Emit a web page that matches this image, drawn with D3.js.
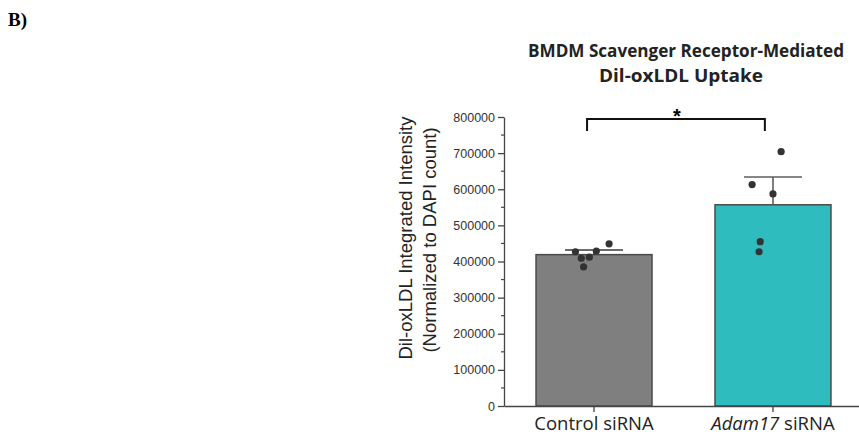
<!DOCTYPE html>
<html>
<head>
<meta charset="utf-8">
<script src="https://cdn.jsdelivr.net/npm/d3@7"></script>
<style>
  body { margin: 0; background: #fff; }
  svg { display: block; }
</style>
</head>
<body>
<div id="chart"></div>
<script>
const width = 859, height = 437;

// data
const groups = ["Control siRNA", "Adam17 siRNA"];
const means = [419000, 557000];
const sems = [13000, 77000];
const controlPoints = [427000, 409000, 412000, 429000, 385000, 449000];
const adamPoints = [704000, 613000, 587000, 455000, 427000];
// horizontal jitter of each dot, as a fraction of the bar band
const controlJitter = [-0.16, -0.11, -0.04, 0.02, -0.09, 0.13];
const adamJitter = [0.07, -0.18, 0.00, -0.11, -0.12];
const yTicks = [0, 100000, 200000, 300000, 400000, 500000, 600000, 700000, 800000];
const barColors = ["#7f7f7f", "#2fbcbf"];

const margin = {left: 504, top: 117, bottom: 31};

const svg = d3.select("#chart")
    .append("svg")
    .attr("width", width)
    .attr("height", height);

const x = d3.scaleBand()
    .domain(groups)
    .range([margin.left, 863])
    .paddingInner(0.352)
    .paddingOuter(0.179);

const y = d3.scaleLinear()
    .domain([0, 800000])
    .range([height - margin.bottom, margin.top]);

// panel letter
svg.append("text")
    .attr("x", 8).attr("y", 26)
    .attr("font-family", "Liberation Serif")
    .attr("font-weight", "bold")
    .attr("font-size", 19)
    .text("B)");

// title
const title = svg.append("text")
    .attr("text-anchor", "middle")
    .attr("font-family", "Open Sans")
    .attr("font-weight", "bold")
    .attr("font-size", 17)
    .attr("fill", "#222");
title.append("tspan").attr("x", 686).attr("y", 57)
    .attr("textLength", 316).attr("lengthAdjust", "spacingAndGlyphs")
    .text("BMDM Scavenger Receptor-Mediated");
title.append("tspan").attr("x", 681).attr("y", 82)
    .attr("textLength", 164).attr("lengthAdjust", "spacingAndGlyphs")
    .text("Dil-oxLDL Uptake");

// bars
const bars = groups.map((g, i) => ({group: g, mean: means[i], sem: sems[i], color: barColors[i]}));

svg.append("g").selectAll("rect")
    .data(bars)
    .join("rect")
    .attr("x", d => x(d.group))
    .attr("y", d => y(d.mean))
    .attr("width", x.bandwidth())
    .attr("height", d => y(0) - y(d.mean))
    .attr("fill", d => d.color)
    .attr("stroke", "#4a4a4a")
    .attr("stroke-width", 1.5);

// error bars
const err = svg.append("g").selectAll("g")
    .data(bars)
    .join("g")
    .attr("stroke", (d, i) => i === 0 ? "#3a3a3a" : "#5e5e5e")
    .attr("stroke-width", 1.6);
err.append("line")
    .attr("x1", d => x(d.group) + x.bandwidth() / 2)
    .attr("x2", d => x(d.group) + x.bandwidth() / 2)
    .attr("y1", d => y(d.mean))
    .attr("y2", d => y(d.mean + d.sem));
err.append("line")
    .attr("x1", d => x(d.group) + x.bandwidth() / 4)
    .attr("x2", d => x(d.group) + x.bandwidth() * 3 / 4)
    .attr("y1", d => y(d.mean + d.sem))
    .attr("y2", d => y(d.mean + d.sem));

// dots
const dots = [];
controlPoints.forEach((v, i) => dots.push({group: groups[0], value: v, jit: controlJitter[i]}));
adamPoints.forEach((v, i) => dots.push({group: groups[1], value: v, jit: adamJitter[i]}));

svg.append("g").selectAll("circle")
    .data(dots)
    .join("circle")
    .attr("cx", d => x(d.group) + x.bandwidth() * (0.5 + d.jit))
    .attr("cy", d => y(d.value))
    .attr("r", 3.6)
    .attr("fill", "#333");

// y axis
const yAxis = svg.append("g")
    .attr("transform", `translate(${margin.left},0)`)
    .call(d3.axisLeft(y).tickValues(yTicks).tickFormat(d3.format("d")).tickSize(6).tickSizeOuter(0));
yAxis.selectAll("text")
    .attr("font-family", "Liberation Sans")
    .attr("font-size", 12.5)
    .attr("fill", "#333")
    .attr("x", -9);
yAxis.selectAll("line, path").attr("stroke", "#444").attr("stroke-width", 1.3);

// minor ticks
svg.append("g").selectAll("line")
    .data(d3.range(50000, 800000, 100000))
    .join("line")
    .attr("x1", margin.left - 3)
    .attr("x2", margin.left)
    .attr("y1", d => y(d))
    .attr("y2", d => y(d))
    .attr("stroke", "#444")
    .attr("stroke-width", 1.2);

// x axis
const xAxis = svg.append("g")
    .attr("transform", `translate(0,${y(0)})`)
    .call(d3.axisBottom(x).tickSize(6).tickSizeOuter(0).tickFormat(""));
xAxis.selectAll("line, path").attr("stroke", "#444").attr("stroke-width", 1.3);

const xLabels = svg.append("g")
    .attr("font-family", "Open Sans")
    .attr("font-size", 18.5)
    .attr("fill", "#222")
    .attr("text-anchor", "middle");
xLabels.append("text")
    .attr("x", x(groups[0]) + x.bandwidth() / 2)
    .attr("y", 430)
    .text("Control siRNA");
const lab2 = xLabels.append("text")
    .attr("x", x(groups[1]) + x.bandwidth() / 2)
    .attr("y", 430);
lab2.append("tspan").attr("font-style", "italic").text("Adam17");
lab2.append("tspan").text(" siRNA");

// y axis title
const yTitle = svg.append("g")
    .attr("font-family", "Liberation Sans")
    .attr("font-size", 18.5)
    .attr("fill", "#222")
    .attr("text-anchor", "middle");
yTitle.append("text")
    .attr("transform", "translate(412,238) rotate(-90)")
    .text("Dil-oxLDL Integrated Intensity");
yTitle.append("text")
    .attr("transform", "translate(436,240) rotate(-90)")
    .text("(Normalized to DAPI count)");

// significance bracket
const bx1 = x(groups[0]) + x.bandwidth() * 0.44;
const bx2 = x(groups[1]) + x.bandwidth() * 0.43;
const by = y(800000) + 2;
svg.append("path")
    .attr("d", `M${bx1},${by + 12}V${by}H${bx2}V${by + 12}`)
    .attr("fill", "none")
    .attr("stroke", "#111")
    .attr("stroke-width", 2);
svg.append("text")
    .attr("x", (bx1 + bx2) / 2 + 1)
    .attr("y", by + 4)
    .attr("text-anchor", "middle")
    .attr("font-family", "Liberation Sans")
    .attr("font-weight", "bold")
    .attr("font-size", 20)
    .text("*");
</script>
</body>
</html>
